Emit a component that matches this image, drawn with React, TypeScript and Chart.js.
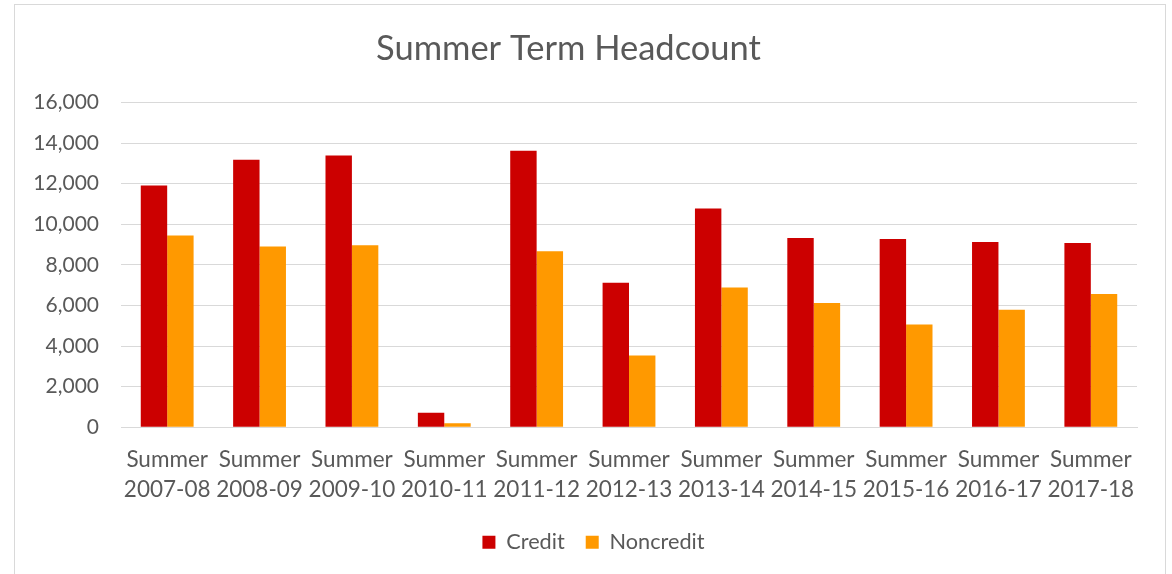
import { useEffect, useRef } from "react";
import { Chart, registerables } from "chart.js";

Chart.register(...registerables);

const categories: string[][] = [
  ["Summer", "2007-08"],
  ["Summer", "2008-09"],
  ["Summer", "2009-10"],
  ["Summer", "2010-11"],
  ["Summer", "2011-12"],
  ["Summer", "2012-13"],
  ["Summer", "2013-14"],
  ["Summer", "2014-15"],
  ["Summer", "2015-16"],
  ["Summer", "2016-17"],
  ["Summer", "2017-18"],
];
const creditValues = [11910, 13170, 13380, 720, 13620, 7120, 10770, 9320, 9270, 9130, 9080];
const noncreditValues = [9440, 8900, 8960, 200, 8670, 3530, 6880, 6120, 5060, 5790, 6570];
const yMin = 0;
const yMax = 16000;
const yStep = 2000;

const FONT = "Lato, 'Noto Sans', sans-serif";
const TEXT = "#595959";
const GRID = "#d9d9d9";

const legendShift = {
  id: "legendShift",
  afterLayout(chart: any) {
    const l = chart.legend;
    if (l) {
      l.left += 25;
      l.right += 25;
    }
  },
};

export default function App() {
  const ref = useRef<HTMLCanvasElement>(null);

  useEffect(() => {
    document.body.style.margin = "0";
    const canvas = ref.current;
    if (!canvas) return;
    const chart = new Chart(canvas, {
      type: "bar",
      data: {
        labels: categories,
        datasets: [
          {
            label: "Credit",
            data: creditValues,
            backgroundColor: "#cc0000",
            categoryPercentage: 0.572,
            barPercentage: 1,
          },
          {
            label: "Noncredit",
            data: noncreditValues,
            backgroundColor: "#ff9900",
            categoryPercentage: 0.572,
            barPercentage: 1,
          },
        ],
      },
      options: {
        animation: false,
        responsive: false,
        maintainAspectRatio: false,
        layout: { padding: { left: 0, right: 35, top: 0, bottom: 11 } },
        plugins: {
          title: {
            display: true,
            text: "Summer Term Headcount",
            color: TEXT,
            font: { family: FONT, size: 34.5, weight: "normal", lineHeight: 1.2 },
            padding: { top: 28, bottom: 33 },
          },
          legend: {
            position: "bottom",
            labels: {
              color: TEXT,
              font: { family: FONT, size: 21.7 },
              boxWidth: 13,
              boxHeight: 13,
              padding: 21,
            },
          },
          tooltip: { enabled: false },
        },
        scales: {
          x: {
            grid: { display: false, drawTicks: false },
            border: { display: true, color: GRID, width: 1 },
            ticks: {
              color: TEXT,
              font: { family: FONT, size: 22.5, lineHeight: 1.31 },
              padding: 18,
              maxRotation: 0,
              autoSkip: false,
            },
            afterFit: (scale: any) => {
              scale.height = 83;
            },
          },
          y: {
            min: yMin,
            max: yMax,
            grid: { color: GRID, lineWidth: 1, drawTicks: false },
            border: { display: false },
            ticks: {
              stepSize: yStep,
              color: TEXT,
              font: { family: FONT, size: 21 },
              padding: 22,
              callback: (v: any) => Number(v).toLocaleString("en-US"),
            },
            afterFit: (scale: any) => {
              scale.width = 121;
            },
          },
        },
      },
      plugins: [legendShift],
    });
    return () => chart.destroy();
  }, []);

  return (
    <div style={{ position: "relative", width: 1172, height: 574, background: "#fff", overflow: "hidden" }}>
      <canvas ref={ref} width={1172} height={574} style={{ position: "absolute", left: 0, top: 0 }} />
      <div
        style={{
          position: "absolute",
          left: 14,
          top: 4,
          width: 1152,
          height: 600,
          border: "1px solid #d9d9d9",
          boxSizing: "border-box",
          pointerEvents: "none",
        }}
      />
    </div>
  );
}
